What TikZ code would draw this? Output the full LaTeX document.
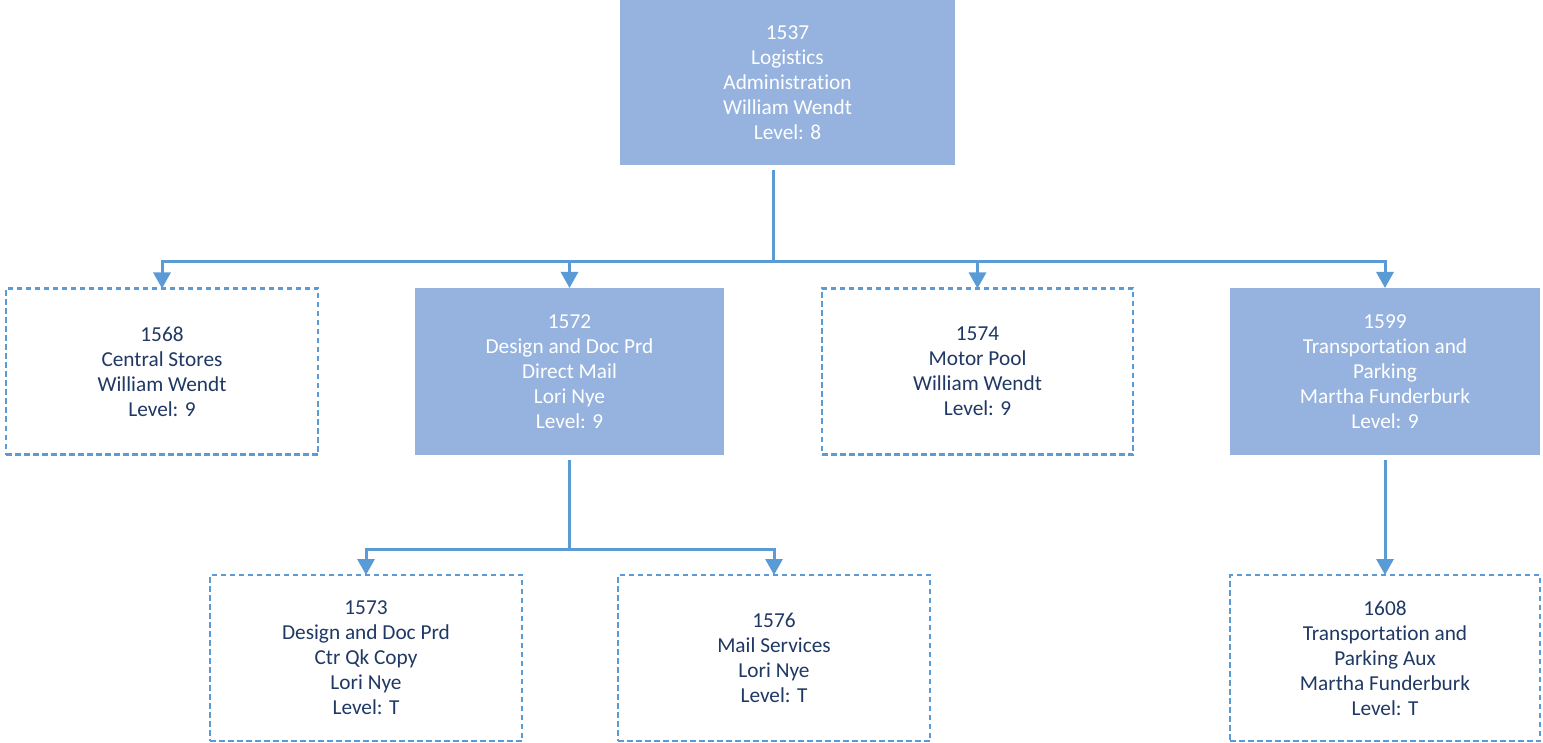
\documentclass[tikz,border=0pt]{standalone}
\usepackage{fontspec}
\setmainfont[Ligatures=NoCommon]{Carlito}
\usetikzlibrary{arrows.meta}
\definecolor{lineblue}{HTML}{5B9BD5}
\definecolor{fillblue}{HTML}{95B3DE}
\definecolor{darktext}{HTML}{1F3864}
\tikzset{
  basebox/.style={rectangle, outer sep=0pt, inner sep=0pt, align=center,
    font=\fontsize{21.3}{25}\selectfont},
  dbox/.style={basebox, draw=lineblue, line width=2.8pt, dash pattern=on 5.5pt off 3.5pt, text=darktext, minimum height=166pt},
  fbox/.style={basebox, fill=fillblue, text=white},
  conn/.style={draw=lineblue, line width=3pt},
  arr/.style={conn, -{Triangle[length=16pt,width=17pt]}},
}
\begin{document}
\begin{tikzpicture}[x=1pt,y=-1pt]
\useasboundingbox (0,0) rectangle (1543,743);
\node[fbox, minimum width=335pt, minimum height=165pt] (n1537) at (787.5,82.5) {1537\\Logistics\\Administration\\William Wendt\\Level: 8};
\node[dbox, minimum width=312pt] (n1568) at (162,371.5) {1568\\Central Stores\\William Wendt\\Level: 9};
\node[fbox, minimum width=309pt, minimum height=167pt] (n1572) at (569.5,371.5) {1572\\Design and Doc Prd\\Direct Mail\\Lori Nye\\Level: 9};
\node[dbox, minimum width=311pt] (n1574) at (977.5,371.5) {1574\\Motor Pool\\William Wendt\\Level: 9};
\node[fbox, minimum width=310pt, minimum height=167pt] (n1599) at (1385,371.5) {1599\\Transportation and\\Parking\\Martha Funderburk\\Level: 9};
\node[dbox, minimum width=312pt] (n1573) at (366,658) {1573\\Design and Doc Prd\\Ctr Qk Copy\\Lori Nye\\Level: T};
\node[dbox, minimum width=312pt] (n1576) at (774,658) {1576\\Mail Services\\Lori Nye\\Level: T};
\node[dbox, minimum width=310pt] (n1608) at (1385,658) {1608\\Transportation and\\Parking Aux\\Martha Funderburk\\Level: T};
\coordinate (j1) at (773,262);
\coordinate (j2) at (569.5,549);
\draw[conn] ([yshift=-5pt]n1537.south -| j1) -- (j1);
\draw[arr] (j1) -| (n1568.north);
\draw[arr] (j1) -| (n1572.north);
\draw[arr] (j1) -| (n1574.north);
\draw[arr] (j1) -| (n1599.north);
\draw[conn] ([yshift=-5pt]n1572.south) -- (j2);
\draw[arr] (j2) -| (n1573.north);
\draw[arr] (j2) -| (n1576.north);
\draw[arr] ([yshift=-5pt]n1599.south) -- (n1608.north);
\end{tikzpicture}
\end{document}
